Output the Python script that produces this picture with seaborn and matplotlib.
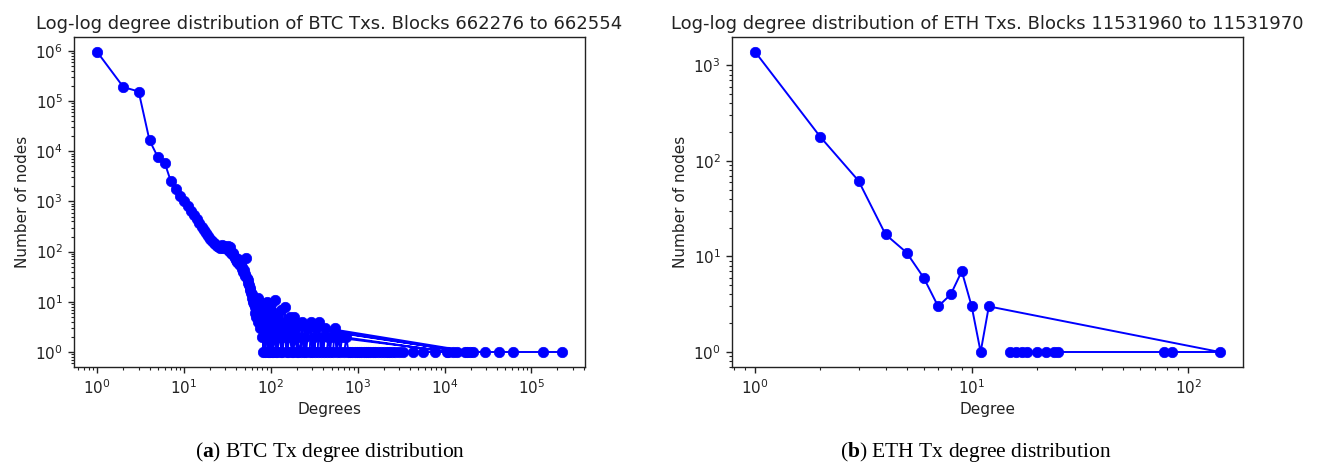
import numpy as np
import pandas as pd
import seaborn as sns
import matplotlib
matplotlib.use("Agg")
import matplotlib.pyplot as plt

# BTC degree histogram, in order of first appearance (degree, number of nodes)
btc_degree = [1, 2, 3, 4, 5, 6, 7, 8, 9, 10, 11, 12, 13, 14, 15, 16, 17, 18, 19, 20,
              21, 22, 23, 24, 25, 26, 27, 28, 29, 30, 31, 32, 33, 34, 35, 36, 37, 38, 39, 40,
              41, 42, 43, 44, 45, 46, 47, 48, 49, 50, 52, 51, 53, 54, 55, 56, 57, 58, 59, 60,
              61, 62, 63, 64,
              66, 65, 68, 67, 70, 69, 72, 71, 74, 73, 76, 75, 78, 77, 80, 79, 82, 81, 84, 83,
              86, 85, 88, 87, 90, 89, 92, 91, 94, 93, 96, 95, 98, 97, 100, 99, 104, 102, 108, 106,
              112, 110, 116, 114, 120, 118, 126, 124, 132, 130, 140, 136, 146, 144, 152, 150,
              160, 156, 168, 164, 176, 172, 184, 180, 192, 188, 200, 196, 210, 205,
              260, 18000, 222, 230, 238, 246, 255,
              270, 19500, 280, 290, 300, 310, 320,
              330, 17000, 345, 360, 375, 390, 405,
              420, 21000, 440, 460, 480,
              500, 12500, 520, 545, 570, 600, 630,
              660, 11000, 700, 740, 780, 820, 870, 920, 980, 1040, 1100, 1170, 1240, 1320,
              1400, 1500, 1600, 1720, 1850, 2000, 2150, 2300, 2500, 2700, 2950, 3300,
              4300, 5600, 7700, 10700, 14000, 29000, 42000, 62000, 137000, 224000]
btc_count = [950000, 190000, 155000, 16500, 7600, 5800, 2600, 1750, 1300, 1000, 800, 650, 530, 450, 370, 310, 265, 235, 205, 180,
             165, 150, 140, 132, 126, 120, 135, 118, 128, 122, 112, 130, 102, 125, 96, 88, 92, 80, 74, 68,
             62, 70, 58, 55, 60, 50, 46, 40, 44, 36, 76, 33, 30, 27, 24, 22, 19, 17, 15, 14,
             12, 10, 11, 9,
             8, 6, 11, 5, 9, 7, 12, 4, 10, 6, 7, 3, 5, 9, 2, 4, 1, 6, 8, 3,
             1, 5, 6, 2, 10, 4, 1, 3, 7, 2, 1, 5, 3, 1, 9, 2, 1, 4, 6, 1,
             11, 2, 1, 3, 5, 1, 2, 4, 1, 7, 3, 1, 8, 2, 1, 4,
             3, 1, 5, 2, 1, 3, 5, 1, 2, 4, 1, 3, 2, 1,
             3, 1, 1, 4, 1, 2, 1,
             3, 1, 1, 4, 1, 2, 1,
             3, 1, 1, 4, 1, 2, 1,
             3, 1, 1, 2, 1,
             2, 1, 1, 3, 1, 2, 1,
             2, 1, 1, 2, 1, 1, 1, 1, 1, 1, 1, 1, 1, 1,
             1, 1, 1, 1, 1, 1, 1, 1, 1, 1, 1, 1,
             1, 1, 1, 1, 1, 1, 1, 1, 1, 1]

# ETH degree histogram, in order of first appearance
eth_degree = [1, 2, 3, 4, 5, 6, 7, 8, 9, 10, 11, 12, 140, 84, 77, 25, 24, 22, 20, 18, 17, 16, 15]
eth_count = [1380, 178, 62, 17, 11, 6, 3, 4, 7, 3, 1, 3, 1, 1, 1, 1, 1, 1, 1, 1, 1, 1, 1]

titles = ["Log-log degree distribution of BTC Txs. Blocks 662276 to 662554",
          "Log-log degree distribution of ETH Txs. Blocks 11531960 to 11531970"]
xlabels = ["Degrees", "Degree"]
captions = [r"($\mathbf{a}$) BTC Tx degree distribution",
            r"($\mathbf{b}$) ETH Tx degree distribution"]

sns.set_theme(style="ticks", rc={
    "axes.edgecolor": "#222222",
    "axes.linewidth": 1.0,
    "xtick.color": "#222222",
    "ytick.color": "#222222",
    "xtick.major.size": 4.5,
    "ytick.major.size": 4.5,
    "xtick.minor.size": 2.5,
    "ytick.minor.size": 2.5,
    "xtick.major.width": 1.0,
    "ytick.major.width": 1.0,
    "xtick.minor.width": 0.8,
    "ytick.minor.width": 0.8,
    "mathtext.fontset": "custom",
    "mathtext.rm": "Liberation Serif",
    "mathtext.bf": "Liberation Serif:bold",
})
plt.rcParams["font.family"] = ["DejaVu Sans"]

fig = plt.figure(figsize=(13.2, 4.68), dpi=100)
ax1 = fig.add_axes([74 / 1320, 1 - 367 / 468, 511 / 1320, 330 / 468])
ax2 = fig.add_axes([732 / 1320, 1 - 367 / 468, 511 / 1320, 330 / 468])

datasets = [pd.DataFrame({"degree": btc_degree, "count": btc_count}),
            pd.DataFrame({"degree": eth_degree, "count": eth_count})]

for ax, df, title, xlabel in zip([ax1, ax2], datasets, titles, xlabels):
    sns.lineplot(data=df, x="degree", y="count", ax=ax, sort=False, estimator=None,
                 color="blue", marker="o", markersize=7.5, markeredgecolor="blue",
                 markeredgewidth=0.5, linewidth=1.4)
    ax.set_xscale("log")
    ax.set_yscale("log")
    ax.set_title(title, fontsize=13, color="#222222", pad=6)
    ax.set_xlabel(xlabel, fontsize=11, color="#222222", labelpad=4)
    ax.set_ylabel("Number of nodes", fontsize=11, color="#222222", labelpad=4)
    ax.tick_params(labelsize=11)

for cx, cap in zip([330 / 1320, 976 / 1320], captions):
    fig.text(cx, 1 - 452 / 468, cap, ha="center", va="center", fontsize=15.5,
             family="Liberation Serif", color="black")

fig.savefig("out.png", dpi=100)
